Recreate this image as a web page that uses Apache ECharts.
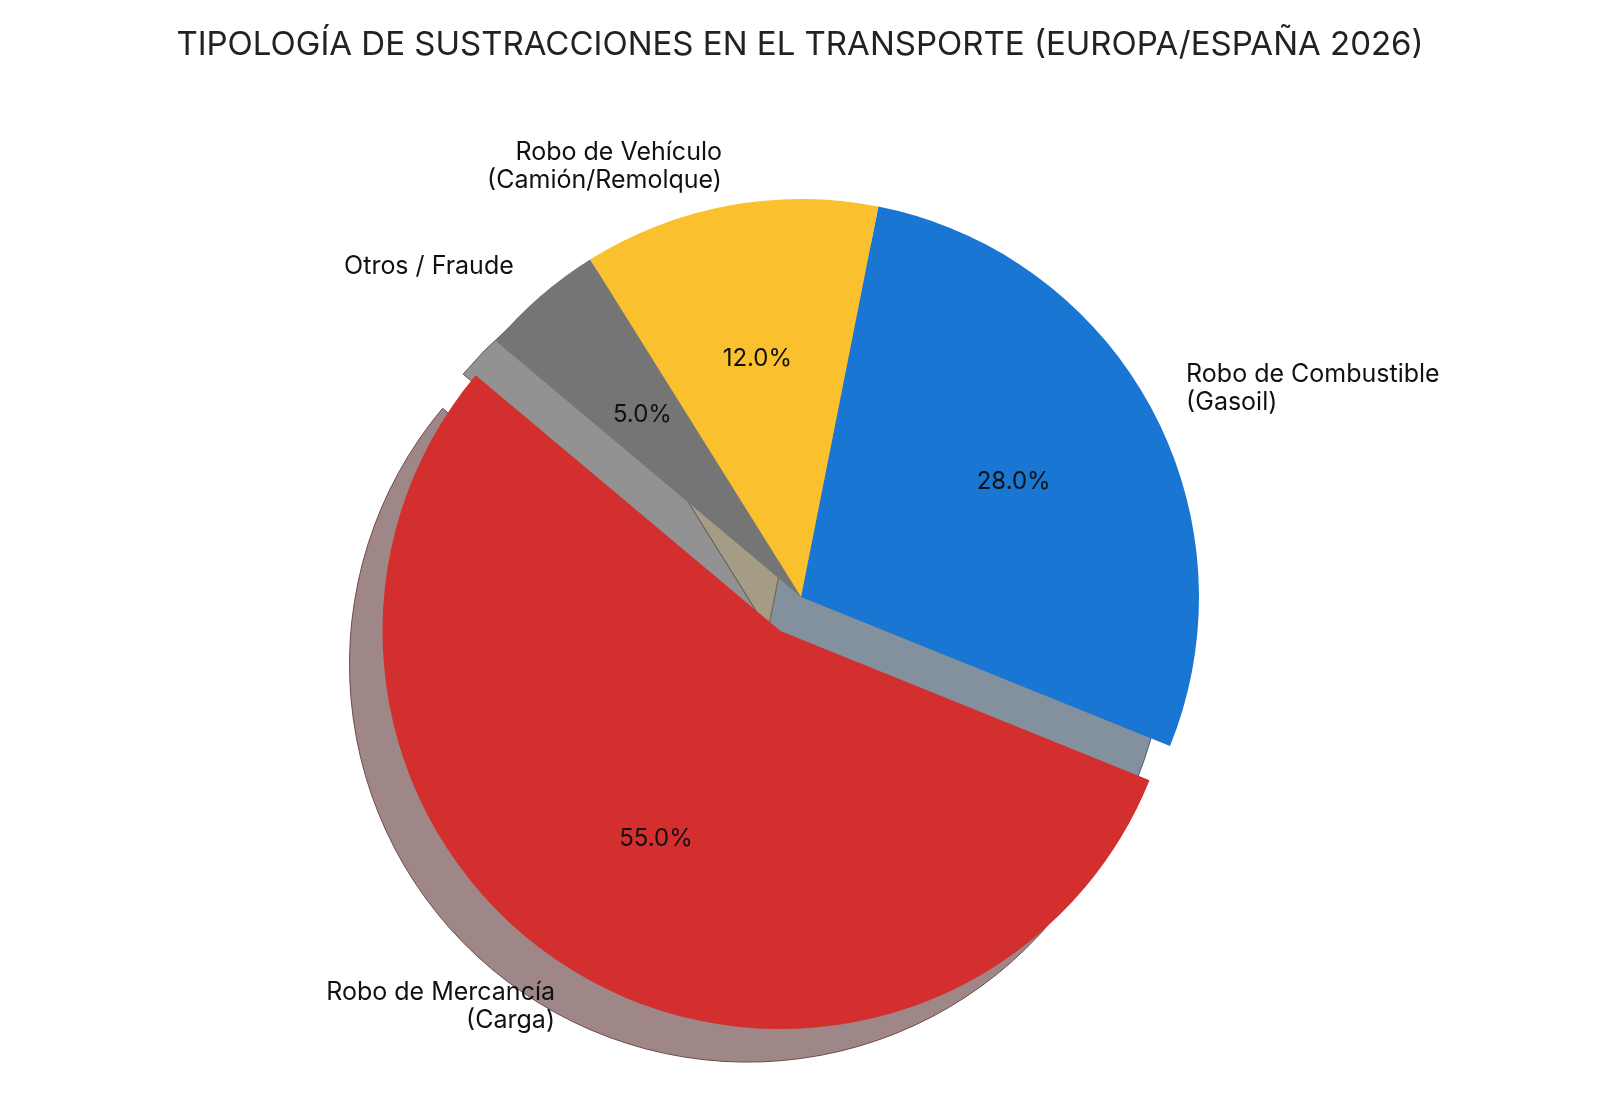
<!DOCTYPE html>
<html>
<head>
<meta charset="utf-8">
<script src="https://cdn.jsdelivr.net/npm/echarts@6/dist/echarts.min.js"></script>
<style>
  html, body { margin: 0; background: #fff; }
  #chart { width: 1600px; height: 1120px; }
</style>
</head>
<body>
<div id="chart"></div>
<script>
// data
const categories = [
  'Robo de Mercancía\n(Carga)',
  'Robo de Combustible\n(Gasoil)',
  'Robo de Vehículo\n(Camión/Remolque)',
  'Otros / Fraude'
];
const shares = [55, 28, 12, 5];
const exploded = [true, false, false, false];

// styles
const palette = ['#d32f2f', '#1976d2', '#fbc02d', '#757575'];
const shadowFill = ['#9f8787', '#83919f', '#a59c86', '#929292'];
const shadowEdge = ['#6f4a4a', '#455a6f', '#786b4a', '#5a5a5a'];

const FONT = 'Inter';
const CX = 801, CY = 597, R = 398;
const EXPLODE = R * 0.1;
const SHADOW = 33;

function slices(fill, edge) {
  return categories.map((name, i) => ({
    name: name,
    value: shares[i],
    selected: exploded[i],
    itemStyle: {
      color: fill ? fill[i] : 'rgba(0,0,0,0)',
      borderColor: edge ? edge[i] : 'rgba(0,0,0,0)',
      borderWidth: edge ? 1 : 0
    }
  }));
}

const base = {
  type: 'pie',
  startAngle: 140,
  clockwise: false,
  selectedMode: 'multiple',
  selectedOffset: EXPLODE,
  silent: true,
  avoidLabelOverlap: false,
  emphasis: { disabled: true },
  labelLine: { show: false }
};

const chart = echarts.init(document.getElementById('chart'), null, { renderer: 'canvas' });
chart.setOption({
  animation: false,
  backgroundColor: '#ffffff',
  title: {
    text: 'TIPOLOGÍA DE SUSTRACCIONES EN EL TRANSPORTE (EUROPA/ESPAÑA 2026)',
    left: 'center',
    top: 24,
    textStyle: { fontFamily: FONT, fontSize: 33, fontWeight: 'normal', color: '#222' }
  },
  series: [
    // shadow
    Object.assign({}, base, {
      center: [CX - SHADOW, CY + SHADOW],
      radius: [0, R],
      label: { show: false },
      data: slices(shadowFill, shadowEdge)
    }),
    // wedges + category labels
    Object.assign({}, base, {
      center: [CX, CY],
      radius: [0, R],
      label: {
        show: true,
        position: 'outside',
        distanceToLabelLine: 0,
        fontFamily: FONT,
        fontSize: 25,
        lineHeight: 28,
        color: '#111'
      },
      labelLine: { show: false, length: R * 0.1, length2: 0 },
      data: slices(palette, null)
    }),
    // percentage labels
    Object.assign({}, base, {
      center: [CX, CY],
      radius: [R * 0.2, R],
      label: {
        show: true,
        position: 'inside',
        fontFamily: FONT,
        fontSize: 24,
        color: '#111',
        formatter: p => p.value.toFixed(1) + '%'
      },
      data: slices(null, null)
    })
  ]
});
</script>
</body>
</html>
